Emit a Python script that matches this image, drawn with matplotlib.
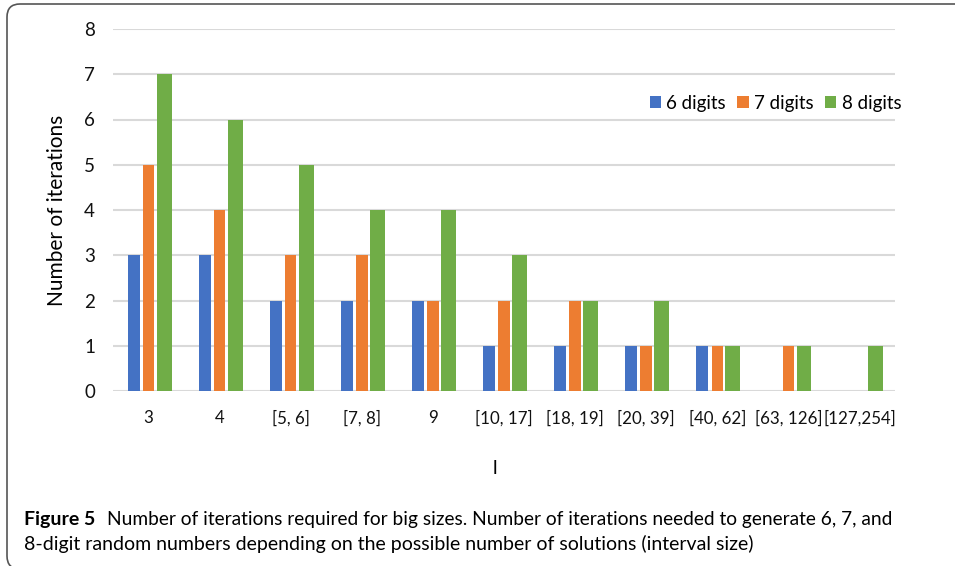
import numpy as np
import matplotlib.pyplot as plt
from matplotlib.patches import FancyBboxPatch

# -----------------------------------------------------------------------------

categories = ['3', '4', '[5, 6]', '[7, 8]', '9', '[10, 17]', '[18, 19]',
              '[20, 39]', '[40, 62]', '[63, 126]', '[127,254]']
digits_6 = [3, 3, 2, 2, 2, 1, 1, 1, 1, 0, 0]
digits_7 = [5, 4, 3, 3, 2, 2, 2, 1, 1, 1, 0]
digits_8 = [7, 6, 5, 4, 4, 3, 2, 2, 1, 1, 1]
series_names = ['6 digits', '7 digits', '8 digits']
colors = ['#4472C4', '#ED7D31', '#70AD47']

plt.rcParams['font.family'] = ['Lato', 'DejaVu Sans']

fig = plt.figure(figsize=(9.55, 5.66), dpi=100)

# rounded frame around the figure (in inches)
frame = FancyBboxPatch((0.07, -0.03), 10.0, 5.66 - 0.04 + 0.03,
                       boxstyle='round,pad=0,rounding_size=0.13',
                       transform=fig.dpi_scale_trans, facecolor='none',
                       edgecolor='#555555', linewidth=1.2)
fig.patches.append(frame)

ax = fig.add_axes([113 / 955, 1 - 391 / 566, 782 / 955, 362 / 566])

x = np.arange(len(categories))
offsets = [-0.21, 0.0, 0.22]
widths = [0.17, 0.16, 0.21]
for vals, name, c, off, w in zip([digits_6, digits_7, digits_8], series_names,
                                 colors, offsets, widths):
    ax.bar(x + off, vals, width=w, color=c, label=name, zorder=3)

ax.set_xlim(-0.5, len(categories) - 0.5)
ax.set_ylim(0, 8)
ax.set_yticks(range(0, 9))
ax.set_xticks(x)
ax.set_xticklabels(categories)
ax.tick_params(axis='both', length=0, labelsize=13.5, colors='#111111')
ax.tick_params(axis='x', pad=14, labelsize=12.2)
ax.tick_params(axis='y', pad=13)
ax.grid(axis='y', color='#D9D9D9', linewidth=1.5, zorder=0)
for s in ax.spines.values():
    s.set_visible(False)

ax.set_ylabel('Number of iterations', fontsize=15, labelpad=12)
ax.set_xlabel('l', fontsize=14)
ax.xaxis.set_label_coords((495 - 113) / 782, -0.19)

ax.legend(loc='upper right', bbox_to_anchor=(1.03, 0.865), ncol=3, frameon=False,
          fontsize=13.5, handlelength=0.6, handleheight=0.6, handletextpad=0.3,
          columnspacing=0.6)

# caption
cap_y1 = 1 - 519 / 566
cap_y2 = 1 - 544 / 566
bold = fig.text(24 / 955, cap_y1, 'Figure 5', fontsize=14, fontweight='bold',
                va='center', ha='left')
fig.canvas.draw()
bb = bold.get_window_extent()
fig.text(bb.x1 / fig.bbox.width + 12 / 955, cap_y1,
         'Number of iterations required for big sizes. '
         'Number of iterations needed to generate 6, 7, and',
         fontsize=13.8, va='center', ha='left')
fig.text(24 / 955, cap_y2,
         '8-digit random numbers depending on the possible number of solutions (interval size)',
         fontsize=14, va='center', ha='left')

plt.savefig('out.png', dpi=100)
